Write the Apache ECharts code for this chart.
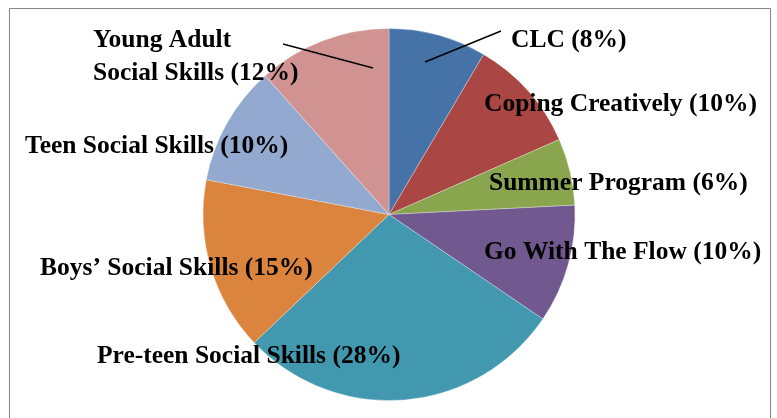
<!DOCTYPE html>
<html><head><meta charset="utf-8">
<script src="https://cdn.jsdelivr.net/npm/echarts@6/dist/echarts.min.js"></script>
<style>html,body{margin:0;padding:0;background:#fff}#c{width:777px;height:418px}</style>
</head><body><div id="c"></div>
<script>
const categories = ['CLC (8%)','Coping Creatively (10%)','Summer Program (6%)','Go With The Flow (10%)','Pre-teen Social Skills (28%)','Boys\u2019 Social Skills (15%)','Teen Social Skills (10%)','Young Adult\nSocial Skills (12%)'];
const values = [8.5, 9.9, 5.8, 10.3, 28.4, 15.1, 10.4, 11.6];
const colors = ['#4572A7','#AA4643','#89A54E','#71588F','#4198AF','#DB843D','#93A9CF','#D19392'];
// label anchors (left x, middle y) and leader lines
const labelPos = [[511,40],[484,104],[489,183],[484,252],[97,356],[40,268],[25,146],[93,57]];
const leaders = [[[425,62],[501,31]], [[283,44],[373,68]]];

const chart = echarts.init(document.getElementById('c'));
chart.setOption({
  backgroundColor: '#fff',
  animation: false,
  graphic: [{type:'rect', shape:{x:9.5,y:8.5,width:761,height:430}, style:{fill:'none', stroke:'#878787', lineWidth:1}, z:-1}]
    .concat(leaders.map(pts=>({type:'polyline', shape:{points:pts}, style:{stroke:'#000', lineWidth:1.5, fill:null}, z:100}))),
  series: [{
    type: 'pie',
    center: [389, 214.5],
    radius: 186,
    startAngle: 90,
    clockwise: true,
    data: categories.map((n,i)=>({name:n, value:values[i], itemStyle:{color:colors[i]}})),
    itemStyle: {borderColor:'rgba(255,255,255,0.6)', borderWidth:0.5},
    label: {show:true, position:'inside', formatter:'{b}', color:'#000',
      fontFamily:'Liberation Serif', fontWeight:'bold', fontSize:25.5, lineHeight:33, align:'left'},
    labelLine: {show:false},
    labelLayout: function(p){
      const i = p.dataIndex;
      return {x: labelPos[i][0], y: labelPos[i][1], align:'left', verticalAlign:'middle'};
    },
    emphasis: {disabled:true}
  }]
});
</script></body></html>
